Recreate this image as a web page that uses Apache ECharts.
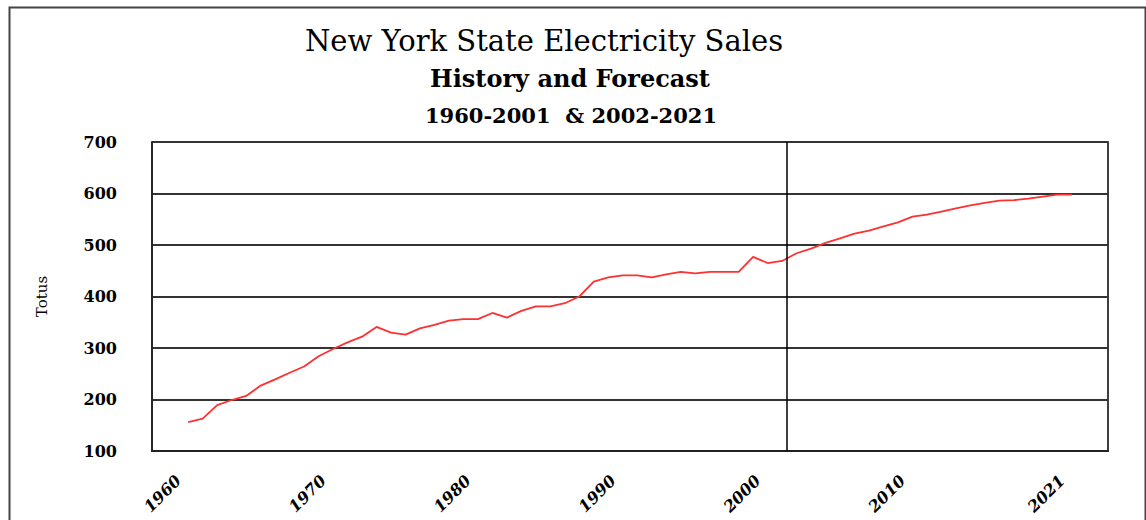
<!DOCTYPE html>
<html><head><meta charset="utf-8">
<script src="https://cdn.jsdelivr.net/npm/echarts@6/dist/echarts.min.js"></script>
<style>html,body{margin:0;padding:0;background:#fff}#c{width:1146px;height:520px}</style>
</head><body><div id="c"></div>
<script>
const years = [1960,1961,1962,1963,1964,1965,1966,1967,1968,1969,1970,1971,1972,1973,1974,1975,1976,1977,1978,1979,1980,1981,1982,1983,1984,1985,1986,1987,1988,1989,1990,1991,1992,1993,1994,1995,1996,1997,1998,1999,2000,2001,2002,2003,2004,2005,2006,2007,2008,2009,2010,2011,2012,2013,2014,2015,2016,2017,2018,2019,2020,2021];
const sales = [156,163,189,199,207,227,239,252,264,284,298,311,322,341,330,326,338,345,353,356,356,368,359,372,381,381,387,400,429,437,441,441,437,443,448,445,448,448,448,477,465,469,484,493,504,513,522,528,536,544,555,559,565,571,577,582,586,587,590,594,598,598];
const xLabelYears = [1960,1970,1980,1990,2000,2010,2021];
const yMin = 100, yMax = 700, yStep = 100;
const xMin = 1957.5, xMax = 2023.5;
const forecastDivider = 2001.3;
const titleMain = 'New York State Electricity Sales';
const titleSub1 = 'History and Forecast';
const titleSub2 = '1960-2001  & 2002-2021';
const yAxisName = 'Totus';

const chart = echarts.init(document.getElementById('c'), null, {renderer: 'svg'});
const serif = '"DejaVu Serif", "Liberation Serif", serif';
chart.setOption({
  animation: false,
  backgroundColor: '#fff',
  graphic: [
    {type: 'rect', left: 7, top: 5, shape: {width: 1136, height: 530}, style: {fill: 'none', stroke: '#444', lineWidth: 2}, silent: true},
    {type: 'text', x: 544, y: 41, style: {text: titleMain, font: 'normal 29px ' + serif, fill: '#000', textAlign: 'center', textVerticalAlign: 'middle'}},
    {type: 'text', x: 570, y: 78, style: {text: titleSub1, font: 'bold 24px ' + serif, fill: '#000', textAlign: 'center', textVerticalAlign: 'middle'}},
    {type: 'text', x: 571, y: 115, style: {text: titleSub2, font: 'bold 21px ' + serif, fill: '#000', textAlign: 'center', textVerticalAlign: 'middle'}}
  ],
  grid: {left: 152, right: 38, top: 142, bottom: 69, show: true, borderColor: '#000', borderWidth: 1.5, backgroundColor: 'transparent'},
  xAxis: {
    type: 'value', min: xMin, max: xMax,
    axisLine: {show: true, lineStyle: {color: '#222', width: 2}},
    axisTick: {show: false},
    splitLine: {show: false},
    axisLabel: {
      customValues: xLabelYears,
      rotate: 45, margin: 17, padding: [0, 14, 0, 0],
      fontFamily: serif, fontWeight: 'bold', fontStyle: 'italic', fontSize: 16, color: '#000',
      formatter: v => String(v)
    }
  },
  yAxis: {
    type: 'value', min: yMin, max: yMax, interval: yStep,
    name: yAxisName, nameLocation: 'middle', nameGap: 103, nameRotate: 90,
    nameTextStyle: {fontFamily: serif, fontSize: 15, color: '#000'},
    axisLine: {show: true, lineStyle: {color: '#222', width: 1.5}},
    axisTick: {show: false},
    splitLine: {show: true, lineStyle: {color: '#333', width: 2}},
    axisLabel: {margin: 35, fontFamily: serif, fontWeight: 'bold', fontSize: 16, color: '#000'}
  },
  series: [{
    type: 'line',
    data: years.map((y, i) => [y, sales[i]]),
    showSymbol: false,
    lineStyle: {color: '#ff3030', width: 1.8},
    markLine: {
      silent: true, symbol: 'none', label: {show: false},
      lineStyle: {color: '#000', type: 'solid', width: 1.5},
      data: [{xAxis: forecastDivider}]
    }
  }]
});
</script></body></html>
